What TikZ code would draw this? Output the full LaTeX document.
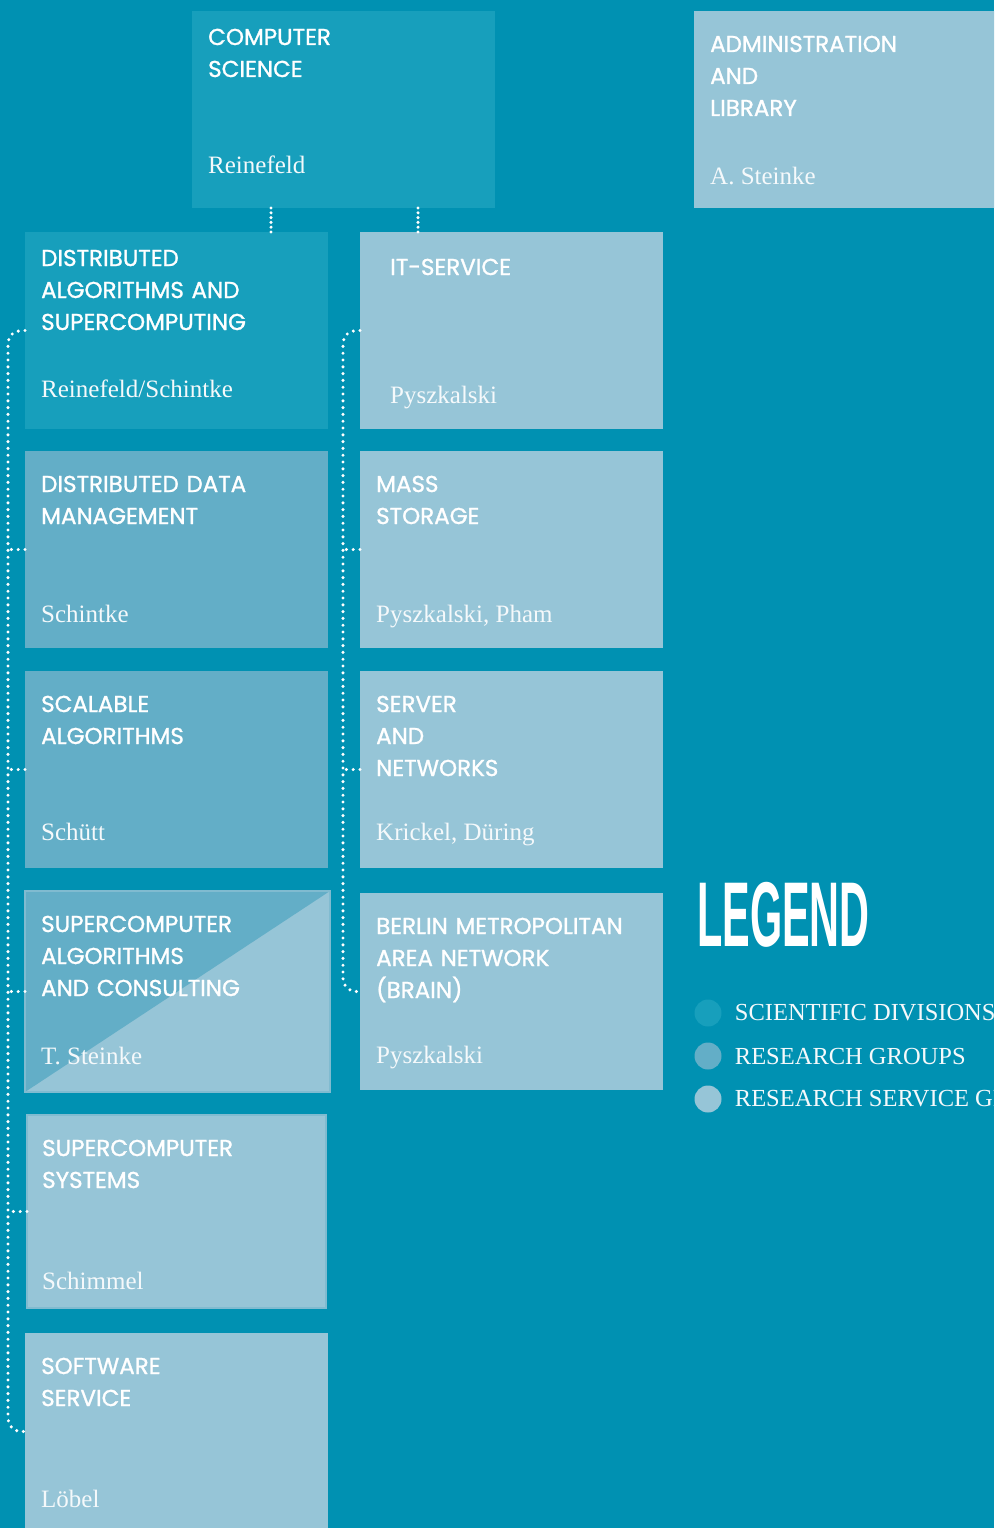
\documentclass[tikz,border=0pt]{standalone}
\usepackage{fontspec}
\setmainfont{Liberation Serif}
\newfontfamily\headfont[FakeBold=1.2]{Poppins}
\newfontfamily\legendfont[FakeStretch=0.45]{Liberation Sans}
\usetikzlibrary{positioning,calc}
\definecolor{bgblue}{HTML}{0091B2}
\definecolor{divblue}{HTML}{179FBC}
\definecolor{grpblue}{HTML}{63AEC7}
\definecolor{srvblue}{HTML}{96C5D7}
\definecolor{rimblue}{HTML}{80BBD0}
\tikzset{
  unit/.style={anchor=north west,minimum width=303pt,minimum height=197pt,inner sep=0,outer sep=0},
  division/.style={unit,fill=divblue},
  group/.style={unit,fill=grpblue},
  service/.style={unit,fill=srvblue},
  title/.style={anchor=base west,inner sep=0,text=white,align=left,text width=290pt,font=\headfont\fontsize{23}{32}\selectfont},
  head/.style={anchor=base west,inner sep=0,text=white!90!srvblue,font=\fontsize{25}{30}\selectfont},
  link/.style={white,line width=3.4pt,line cap=round,dash pattern=on 0pt off 6.8pt},
  keydot/.style={circle,minimum size=27pt,inner sep=0},
  keytext/.style={anchor=west,inner sep=0,text=white!90!srvblue,font=\fontsize{24.5}{28}\selectfont},
}
\begin{document}
\begin{tikzpicture}[x=1pt,y=-1pt]
  \useasboundingbox (0,0) rectangle (994,1528);
  \clip (0,0) rectangle (994,1528);
  \fill[bgblue] (0,0) rectangle (994,1528);
  % top row
  \node[division] (cs) at (192,11) {};
  \node[title] (cs-t) at (208,45) {COMPUTER\\SCIENCE};
  \node[head] (cs-h) at (208,173) {Reinefeld};
  \node[service,minimum width=310pt] (adm) at (694,11) {};
  \node[title] (adm-t) at (710,52) {ADMINISTRATION\\AND\\LIBRARY};
  \node[head] (adm-h) at (710,184) {A. Steinke};
  % left column
  \node[division] (das) at (25,232) {};
  \node[title] (das-t) at (41,266) {DISTRIBUTED\\ALGORITHMS AND\\SUPERCOMPUTING};
  \node[head] (das-h) at (41,397) {Reinefeld/Schintke};
  \node[group] (ddm) at (25,451) {};
  \node[title] (ddm-t) at (41,492) {DISTRIBUTED DATA\\MANAGEMENT};
  \node[head] (ddm-h) at (41,622) {Schintke};
  \node[group] (scal) at (25,671) {};
  \node[title] (scal-t) at (41,712) {SCALABLE\\ALGORITHMS};
  \node[head] (scal-h) at (41,840) {Schütt};
  \node[service,minimum width=305pt,minimum height=201pt] (sac) at (25,891) {};
  \fill[grpblue] (sac.north west) -- (sac.north east) -- (sac.south west) -- cycle;
  \draw[rimblue,line width=1.2pt] (sac.north west) rectangle (sac.south east);
  \node[title] (sac-t) at (41,932) {SUPERCOMPUTER\\ALGORITHMS\\AND CONSULTING};
  \node[head] (sac-h) at (41,1064) {T. Steinke};
  \node[service,minimum width=299pt,minimum height=193pt,draw=rimblue,line width=1.2pt] (sys) at (27,1115) {};
  \node[title] (sys-t) at (42,1156) {SUPERCOMPUTER\\SYSTEMS};
  \node[head] (sys-h) at (42,1289) {Schimmel};
  \node[service] (soft) at (25,1333) {};
  \node[title] (soft-t) at (41,1374) {SOFTWARE\\SERVICE};
  \node[head] (soft-h) at (41,1507) {Löbel};
  % middle column
  \node[service] (it) at (360,232) {};
  \node[title] (it-t) at (390,275) {IT-SERVICE};
  \node[head] (it-h) at (390,403) {Pyszkalski};
  \node[service] (mass) at (360,451) {};
  \node[title] (mass-t) at (376,492) {MASS\\STORAGE};
  \node[head] (mass-h) at (376,622) {Pyszkalski, Pham};
  \node[service] (srv) at (360,671) {};
  \node[title] (srv-t) at (376,712) {SERVER\\AND\\NETWORKS};
  \node[head] (srv-h) at (376,840) {Krickel, Düring};
  \node[service] (brain) at (360,893) {};
  \node[title] (brain-t) at (376,934) {BERLIN METROPOLITAN\\AREA NETWORK\\(BRAIN)};
  \node[head] (brain-h) at (376,1063) {Pyszkalski};
  % connectors
  \coordinate (cs-das) at (271,0);
  \coordinate (cs-it) at (418,0);
  \coordinate (lspine) at (8,0);
  \coordinate (mspine) at (343,0);
  \draw[link,dash pattern=on 0pt off 4.8pt] (cs.south -| cs-das) -- (das.north -| cs-das);
  \draw[link,dash pattern=on 0pt off 4.8pt] (cs.south -| cs-it) -- (it.north -| cs-it);
  \draw[link,rounded corners=13pt] (das.west) -| (lspine |- soft.west) -- (soft.west);
  \foreach \n in {ddm,scal,sac,sys}
    \draw[link] (\n.west) -- (\n.west -| lspine);
  \draw[link,rounded corners=13pt] (it.west) -| (mspine |- brain.west) -- (brain.west);
  \foreach \n in {mass,srv}
    \draw[link] (\n.west) -- (\n.west -| mspine);
  % legend
  \node[anchor=base west,inner sep=0,text=white,font=\legendfont\bfseries\fontsize{92}{92}\selectfont] (legend) at (697,946) {LEGEND};
  \node[keydot,fill=divblue] (key-div) at (708,1013) {};
  \node[keydot,fill=grpblue] (key-grp) at (708,1056) {};
  \node[keydot,fill=srvblue] (key-srv) at (708,1099) {};
  \node[keytext,right=13pt of key-div] (key-div-t) {SCIENTIFIC DIVISIONS};
  \node[keytext,right=13pt of key-grp] (key-grp-t) {RESEARCH GROUPS};
  \node[keytext,right=13pt of key-srv] (key-srv-t) {RESEARCH SERVICE GROUPS};
\end{tikzpicture}
\end{document}
